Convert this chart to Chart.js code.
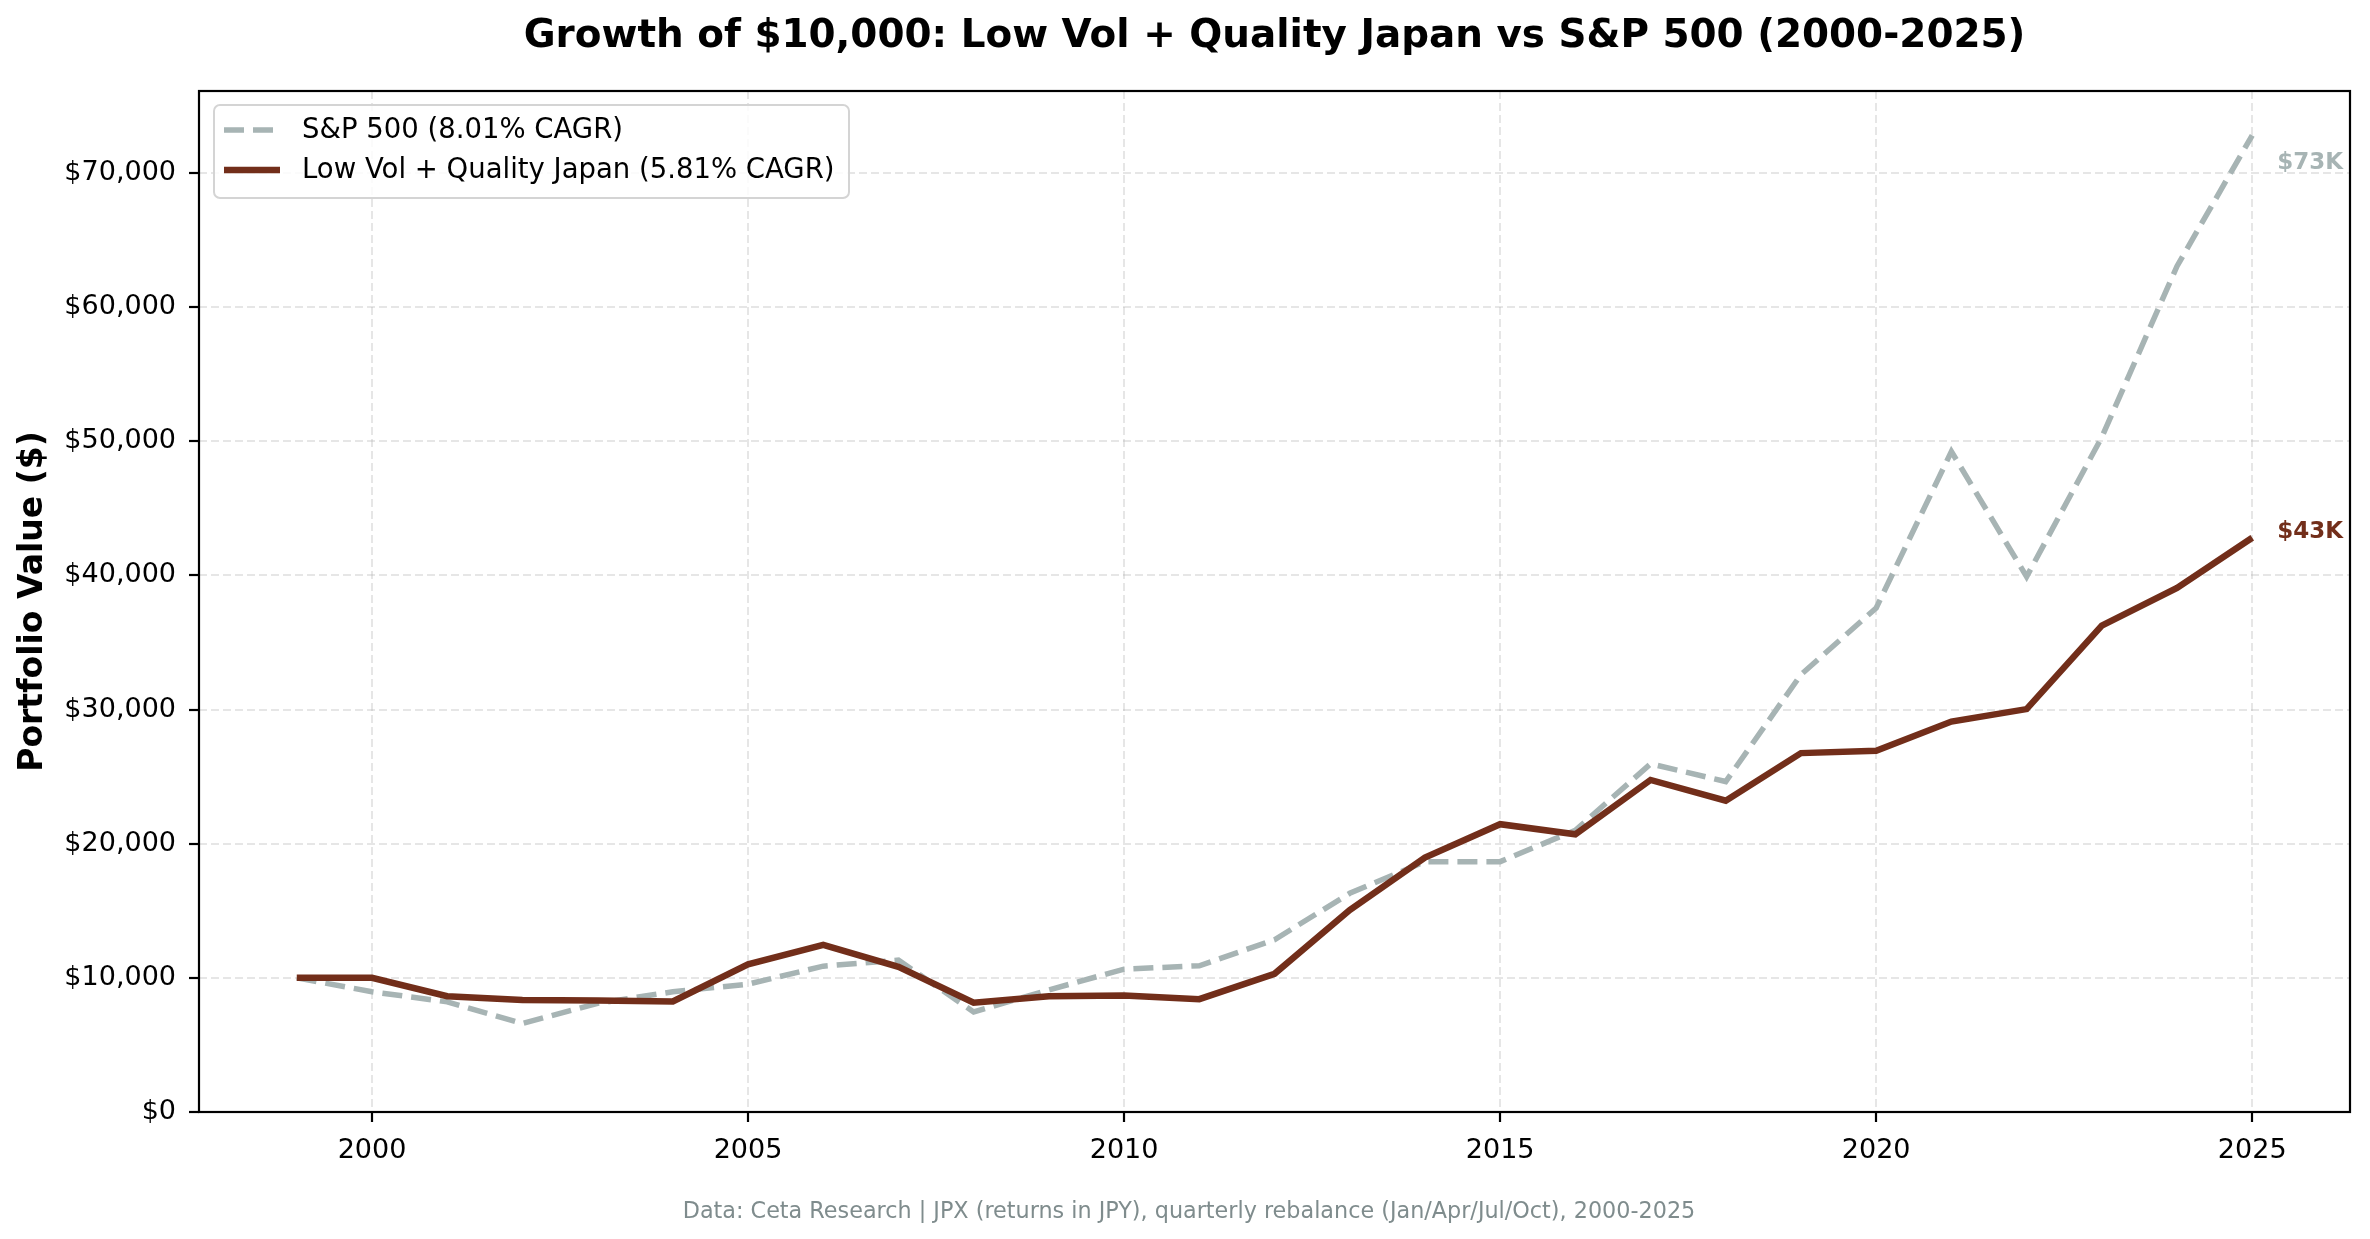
<!DOCTYPE html>
<html>
<head>
<meta charset="utf-8">
<script src="https://cdn.jsdelivr.net/npm/chart.js@4.4.1/dist/chart.umd.min.js"></script>
<style>
  html, body { margin: 0; padding: 0; background: #fff; }
  canvas { display: block; }
</style>
</head>
<body>
<canvas id="growthChart" width="2370" height="1239"></canvas>
<script>
// data
const years = [1999, 2000, 2001, 2002, 2003, 2004, 2005, 2006, 2007, 2008, 2009, 2010, 2011, 2012,
               2013, 2014, 2015, 2016, 2017, 2018, 2019, 2020, 2021, 2022, 2023, 2024, 2025];
const sp500Values = [10000, 8960, 8210, 6600, 8100, 8960, 9530, 10870, 11320, 7460, 9100, 10650, 10900, 12840,
                     16300, 18660, 18660, 21000, 25950, 24630, 32600, 37570, 49230, 39900, 50300, 63040, 72800];
const japanValues = [10000, 10000, 8630, 8340, 8310, 8240, 11000, 12460, 10820, 8140, 8630, 8680, 8410, 10300,
                     15050, 18960, 21450, 20700, 24750, 23200, 26750, 26920, 29100, 30030, 36250, 39060, 42800];
const seriesLabels = ['S&P 500 (8.01% CAGR)', 'Low Vol + Quality Japan (5.81% CAGR)'];
const xTicks = [2000, 2005, 2010, 2015, 2020, 2025];
const yTicks = [0, 10000, 20000, 30000, 40000, 50000, 60000, 70000];

const TITLE = 'Growth of $10,000: Low Vol + Quality Japan vs S&P 500 (2000-2025)';
const Y_TITLE = 'Portfolio Value ($)';
const SOURCE = 'Data: Ceta Research | JPX (returns in JPY), quarterly rebalance (Jan/Apr/Jul/Oct), 2000-2025';

const SP_COLOR = '#a7b4b4';
const JP_COLOR = '#722e1a';
const FONT = "'DejaVu Sans', sans-serif";

function toPoints(values) {
    return years.map((yr, i) => ({ x: yr, y: values[i] }));
}

function fmtDollar(v) {
    return '$' + Number(v).toLocaleString('en-US');
}

// title, frame, legend, end labels, source line
const extras = {
    id: 'extras',
    afterDraw(chart) {
        const { ctx, chartArea: a } = chart;
        ctx.save();

        // axes frame (all four spines)
        ctx.strokeStyle = '#000';
        ctx.lineWidth = 2.2;
        ctx.strokeRect(a.left, a.top, a.right - a.left, a.bottom - a.top);

        // title
        ctx.fillStyle = '#000';
        ctx.textAlign = 'center';
        ctx.textBaseline = 'middle';
        ctx.font = `bold 38.9px ${FONT}`;
        ctx.fillText(TITLE, (a.left + a.right) / 2, 37);

        // y axis title
        ctx.save();
        ctx.translate(33, (a.top + a.bottom) / 2);
        ctx.rotate(-Math.PI / 2);
        ctx.font = `bold 33px ${FONT}`;
        ctx.fillText(Y_TITLE, 0, 0);
        ctx.restore();

        // source line, centred on the figure
        ctx.fillStyle = '#7f8c8d';
        ctx.font = `22.3px ${FONT}`;
        ctx.fillText(SOURCE, chart.width / 2 + 4, 1212);

        // end-of-line value labels
        const shifts = [28, -6];
        ctx.textAlign = 'left';
        ctx.font = `bold 23px ${FONT}`;
        chart.data.datasets.forEach((ds, i) => {
            const meta = chart.getDatasetMeta(i);
            const last = meta.data[meta.data.length - 1];
            const v = ds.data[ds.data.length - 1].y;
            ctx.fillStyle = ds.borderColor;
            ctx.fillText('$' + Math.round(v / 1000) + 'K', last.x + 25, last.y + shifts[i]);
        });

        // legend box
        const lx = a.left + 15, ly = a.top + 14, lw = 635, lh = 93;
        ctx.beginPath();
        ctx.roundRect(lx, ly, lw, lh, 6);
        ctx.fillStyle = 'rgba(255,255,255,0.85)';
        ctx.fill();
        ctx.strokeStyle = '#d4d4d4';
        ctx.lineWidth = 2;
        ctx.stroke();

        ctx.font = `27.5px ${FONT}`;
        ctx.textBaseline = 'middle';
        chart.data.datasets.forEach((ds, i) => {
            const rowY = ly + 25 + i * 40;
            ctx.beginPath();
            ctx.setLineDash(ds.borderDash || []);
            ctx.strokeStyle = ds.borderColor;
            ctx.lineWidth = ds.borderWidth;
            ctx.moveTo(lx + 10, rowY);
            ctx.lineTo(lx + 66, rowY);
            ctx.stroke();
            ctx.setLineDash([]);
            ctx.fillStyle = '#000';
            ctx.fillText(ds.label, lx + 88, rowY + 1);
        });

        ctx.restore();
    }
};

const gridOpts = {
    color: 'rgba(176,176,176,0.32)',
    lineWidth: 2,
    drawTicks: true,
    tickLength: 10,
    tickColor: '#000',
    tickWidth: 2.2
};

new Chart(document.getElementById('growthChart'), {
    type: 'line',
    data: {
        datasets: [
            {
                label: seriesLabels[0],
                data: toPoints(sp500Values),
                borderColor: SP_COLOR,
                borderWidth: 5.5,
                borderDash: [20, 9],
                pointRadius: 0,
                tension: 0,
                fill: false,
                order: 1
            },
            {
                label: seriesLabels[1],
                data: toPoints(japanValues),
                borderColor: JP_COLOR,
                borderWidth: 6.5,
                pointRadius: 0,
                tension: 0,
                fill: false,
                order: 0
            }
        ]
    },
    options: {
        responsive: false,
        animation: false,
        devicePixelRatio: 1,
        layout: { padding: { left: 0, top: 91, right: 20, bottom: 0 } },
        plugins: {
            legend: { display: false },
            title: { display: false },
            tooltip: { enabled: false }
        },
        scales: {
            x: {
                type: 'linear',
                min: 1997.7,
                max: 2026.3,
                afterBuildTicks: (scale) => { scale.ticks = xTicks.map(v => ({ value: v })); },
                afterFit: (scale) => { scale.height = 127; },
                grid: gridOpts,
                border: { display: false, dash: [8, 4] },
                ticks: {
                    color: '#000',
                    padding: 13,
                    maxRotation: 0,
                    font: { family: FONT, size: 27 },
                    callback: (v) => String(v)
                }
            },
            y: {
                type: 'linear',
                min: 0,
                max: 76100,
                afterBuildTicks: (scale) => { scale.ticks = yTicks.map(v => ({ value: v })); },
                afterFit: (scale) => { scale.width = 199; },
                grid: gridOpts,
                border: { display: false, dash: [8, 4] },
                ticks: {
                    color: '#000',
                    padding: 13,
                    font: { family: FONT, size: 27 },
                    callback: (v) => fmtDollar(v)
                }
            }
        }
    },
    plugins: [extras]
});
</script>
</body>
</html>
